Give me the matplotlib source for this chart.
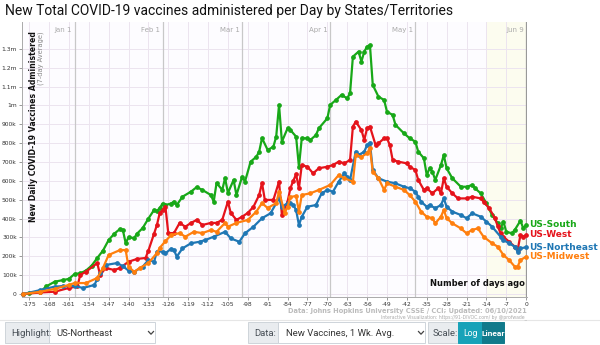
import matplotlib

matplotlib.use("Agg")
import matplotlib.pyplot as plt
from matplotlib.patches import Rectangle
from matplotlib.lines import Line2D
import numpy as np

# values in thousands of doses per day (7-day average), x = days ago
SOUTH_DAYS = [-177, -175, -171, -169, -166, -163, -161, -159, -157, -155, -153, -151, -149, -147,
              -145, -143, -142, -141, -140, -138, -137, -135, -133, -131, -130, -129, -128, -127,
              -125, -124, -123, -121, -118, -116, -114, -111, -110, -109, -107, -106, -105, -103,
              -102, -100, -99, -97, -95, -94, -93, -91, -89, -88, -87, -86, -84, -83, -81, -80,
              -79, -77, -76, -74, -73, -70, -69, -67, -65, -63, -62, -61, -59, -58, -57, -56, -55,
              -54, -52, -50, -49, -47, -46, -43, -41, -39, -38, -36, -35, -34, -33, -32, -30, -29,
              -28, -26, -23, -21, -19, -18, -16, -14, -12, -10, -9, -8, -7, -5, -4, -2, -1, 0]
SOUTH = [0, 3, 12, 40, 65, 74, 80, 106, 110, 124, 150, 191, 230, 286,
         320, 345, 340, 270, 300, 297, 320, 350, 400, 446, 440, 456, 480, 472,
         480, 490, 472, 516, 543, 567, 552, 525, 490, 589, 552, 615, 536, 605,
         525, 622, 596, 702, 728, 755, 827, 764, 781, 835, 1003, 808, 879, 870, 835, 675,
         826, 826, 817, 843, 879, 932, 1003, 1029, 1056, 1038, 1065, 1259, 1286, 1233, 1286, 1312, 1321,
         1109, 1047, 1029, 967, 950, 897, 852, 826, 808, 755, 720, 631, 667, 649, 605, 684, 737,
         667, 614, 569, 569, 578, 561, 534, 481, 419, 375, 348, 384, 330, 322, 340, 389, 348, 366]

WEST_DAYS = [-177, -171, -166, -161, -158, -157, -155, -151, -150, -148, -145, -143, -140, -137,
             -134, -133, -131, -130, -129, -128, -127, -126, -124, -122, -120, -118, -116, -114,
             -111, -109, -107, -105, -104, -102, -100, -98, -96, -94, -93, -92, -89, -87, -86, -84,
             -83, -82, -81, -80, -79, -77, -75, -73, -70, -68, -66, -64, -62, -61, -60, -58, -57,
             -56, -55, -53, -52, -50, -49, -48, -47, -45, -42, -41, -39, -38, -36, -35, -33, -31,
             -30, -29, -28, -26, -24, -21, -19, -16, -15, -13, -11, -10, -9, -8, -6, -4, -3, -2, -1, 0]
WEST = [0, 8, 12, 32, 40, 101, 118, 164, 101, 138, 127, 138, 171, 186,
        191, 230, 320, 366, 430, 445, 463, 323, 323, 377, 357, 377, 393, 366,
        377, 377, 393, 490, 430, 393, 410, 430, 463, 525, 589, 499, 499, 596, 419, 490,
        561, 600, 635, 560, 684, 675, 640, 667, 675, 684, 702, 693, 711, 888, 914, 870, 817,
        879, 888, 790, 799, 826, 826, 790, 711, 702, 693, 675, 658, 605, 552, 561, 534, 561,
        534, 614, 569, 534, 507, 507, 516, 507, 490, 455, 402, 360, 322, 304, 277, 251, 233, 313, 304, 313]

NORTHEAST_DAYS = [-177, -171, -166, -163, -159, -156, -152, -151, -150, -148, -144, -142, -140, -138,
                  -135, -133, -131, -130, -128, -127, -125, -124, -123, -121, -118, -115, -113, -110,
                  -106, -104, -101, -99, -96, -93, -90, -87, -86, -84, -83, -82, -81, -80, -79, -77,
                  -74, -72, -70, -68, -66, -64, -63, -62, -60, -59, -57, -56, -55, -54, -52, -49, -46,
                  -43, -41, -39, -38, -37, -35, -34, -32, -30, -29, -28, -26, -23, -21, -19, -16, -14,
                  -12, -9, -8, -6, -4, -3, -2, 0]
NORTHEAST = [0, 21, 39, 42, 42, 32, 48, 80, 111, 154, 164, 148, 124, 118,
             145, 180, 171, 225, 225, 216, 240, 233, 198, 242, 269, 277, 286, 304,
             330, 295, 277, 322, 357, 402, 428, 508, 463, 481, 481, 472, 446, 366, 410, 463,
             472, 534, 552, 543, 596, 640, 622, 605, 755, 737, 755, 790, 803, 658, 614, 596, 587,
             569, 561, 543, 516, 490, 463, 472, 455, 472, 507, 463, 437, 419, 402, 428, 410, 384,
             357, 304, 286, 269, 251, 224, 242, 248]

MIDWEST_DAYS = [-177, -171, -166, -161, -159, -155, -151, -149, -147, -143, -141, -140, -138, -136,
                -133, -130, -129, -127, -125, -122, -120, -117, -114, -111, -109, -106, -105, -102,
                -98, -95, -93, -91, -88, -87, -85, -84, -83, -81, -80, -79, -76, -73, -69, -66, -64,
                -61, -60, -58, -56, -55, -54, -52, -50, -49, -46, -43, -41, -39, -37, -35, -33, -32,
                -30, -29, -28, -26, -23, -21, -19, -17, -15, -12, -10, -8, -6, -4, -3, -2, 0]
MIDWEST = [0, 12, 27, 48, 58, 58, 85, 138, 207, 233, 233, 145, 118, 138,
           164, 217, 245, 280, 313, 323, 304, 330, 323, 339, 330, 377, 357, 377,
           393, 437, 482, 456, 482, 543, 430, 463, 515, 520, 437, 525, 534, 552, 578, 631, 614,
           596, 737, 728, 746, 773, 649, 614, 552, 587, 569, 552, 525, 490, 437, 410, 402, 375,
           410, 446, 402, 375, 348, 322, 340, 348, 304, 269, 251, 207, 180, 145, 145, 180, 198]

SERIES = [
    ("US-South", SOUTH_DAYS, SOUTH, "#18a818"),
    ("US-West", WEST_DAYS, WEST, "#e5131b"),
    ("US-Northeast", NORTHEAST_DAYS, NORTHEAST, "#1f77b4"),
    ("US-Midwest", MIDWEST_DAYS, MIDWEST, "#ff7f0e"),
]

X_TICKS = list(range(-175, 1, 7))
Y_TICKS = list(range(0, 1301, 100))
Y_LABELS = ["0"] + [f"{v}k" for v in range(100, 1000, 100)] + ["1m", "1.1m", "1.2m", "1.3m"]
MONTHS = [("Jan 1", -159), ("Feb 1", -128), ("Mar 1", -100), ("Apr 1", -69), ("May 1", -39), ("Jun 9", 0)]

W, H = 600, 345


def px_rect(fig, x, y, w, h, **kw):
    fig.add_artist(Rectangle((x / W, 1 - (y + h) / H), w / W, h / H,
                             transform=fig.transFigure, **kw))


def px_text(fig, x, y, s, **kw):
    fig.text(x / W, 1 - y / H, s, **kw)


def chevron(fig, x, y):
    xs = np.array([x - 2.5, x, x + 2.5]) / W
    ys = 1 - np.array([y - 1.5, y + 1.2, y - 1.5]) / H
    fig.add_artist(Line2D(xs, ys, color="#444444", lw=0.9, transform=fig.transFigure))


def main() -> None:
    plt.rcParams["font.family"] = ["DejaVu Sans"]
    fig = plt.figure(figsize=(6, 3.45), dpi=100, facecolor="white")
    ax = fig.add_axes([22 / W, 1 - 297 / H, 505 / W, 275 / H])
    ax.set_facecolor("#fdfcff")

    ax.set_xlim(-177.5, 0.3)
    ax.set_ylim(-16, 1443)

    # recent two weeks highlight
    ax.axvspan(-13.7, 0, color="#fcfcef", zorder=0)

    for d in X_TICKS:
        ax.axvline(d, color="#ece4ef", lw=0.7, zorder=1)
    for v in Y_TICKS:
        ax.axhline(v, color="#ece4ef", lw=0.7, zorder=1)
    for name, d in MONTHS:
        ax.axvline(d, color="#c8c8c8" if d else "#999999", lw=0.9, zorder=1)
        ax.text(d - 0.8, 1400, name, ha="right", va="center", fontsize=5, color="#aaaaaa")

    for name, days, vals, color in SERIES:
        ax.plot(days, vals, color=color, lw=1.6, marker="o", ms=2.4, zorder=3, clip_on=False)
        ax.text(1.2, vals[-1], name, color=color, fontsize=6.5, fontweight="bold",
                ha="left", va="center", clip_on=False)

    ax.set_xticks(X_TICKS)
    ax.set_xticklabels([str(d) for d in X_TICKS], fontsize=4.3, color="#333333")
    ax.set_yticks(Y_TICKS)
    ax.set_yticklabels(Y_LABELS, fontsize=4.3, color="#333333")
    ax.tick_params(length=2.5, width=0.6, color="#888888", pad=1.2)
    for side in ["top", "right"]:
        ax.spines[side].set_visible(False)
    for side in ["left", "bottom"]:
        ax.spines[side].set_color("#aaaaaa")
        ax.spines[side].set_linewidth(0.7)

    ax.text(-173.6, 1395, "New Daily COVID-19 Vaccines Administered", rotation=90,
            ha="center", va="top", fontsize=5.6, fontweight="bold", color="#111111")
    ax.text(-170.8, 1395, "(7-day Average)", rotation=90, ha="center", va="top",
            fontsize=4.8, color="#888888")
    ax.text(-0.6, 30, "Number of days ago", ha="right", va="bottom", fontsize=6,
            fontweight="bold", color="#111111")

    px_text(fig, 5, 11, "New Total COVID-19 vaccines administered per Day by States/Territories",
            fontsize=10.0, family="Roboto", va="center", ha="left", color="#111111")
    px_text(fig, 527, 311, "Data: Johns Hopkins University CSSE / CCI; Updated: 06/10/2021",
            fontsize=4.8, fontweight="bold", color="#bbbbbb", ha="right", va="center")
    px_text(fig, 527, 317, "Interactive Visualization: https://91-DIVOC.com/ by @profwade_",
            fontsize=3.3, color="#aaaaaa", ha="right", va="center")

    # control bar below the chart
    fig.add_artist(Line2D([0, 1], [1 - 319.5 / H] * 2, color="#e6e6e6", lw=0.8,
                          transform=fig.transFigure))
    edge = dict(edgecolor="#ced4da", linewidth=0.7)
    px_rect(fig, 5, 322, 44, 21, facecolor="#e9ecef", **edge)
    px_rect(fig, 49, 322, 106, 21, facecolor="white", **edge)
    px_rect(fig, 248, 322, 30, 21, facecolor="#e9ecef", **edge)
    px_rect(fig, 278, 322, 147, 21, facecolor="white", **edge)
    px_rect(fig, 428, 322, 30, 21, facecolor="#e9ecef", **edge)
    px_rect(fig, 458, 322, 24, 21, facecolor="#17a2b8", edgecolor="#17a2b8", linewidth=0.7)
    px_rect(fig, 482, 322, 22, 21, facecolor="#117a8b", edgecolor="#117a8b", linewidth=0.7)
    ui = dict(family="Roboto", fontsize=6.8, va="center", color="#495057")
    px_text(fig, 11, 333, "Highlight:", **ui)
    px_text(fig, 56, 333, "US-Northeast", **{**ui, "color": "#333333"})
    px_text(fig, 254, 333, "Data:", **ui)
    px_text(fig, 286, 333, "New Vaccines, 1 Wk. Avg.", **{**ui, "color": "#333333"})
    px_text(fig, 433, 333, "Scale:", **ui)
    px_text(fig, 470, 333, "Log", **{**ui, "color": "white", "ha": "center", "fontsize": 6.2})
    px_text(fig, 493, 333, "Linear", **{**ui, "color": "white", "ha": "center",
                                        "fontweight": "bold", "fontsize": 6.0})
    chevron(fig, 151, 333)
    chevron(fig, 421, 333)

    fig.savefig("out.png", dpi=100, facecolor="white")
    plt.close(fig)


if __name__ == "__main__":
    main()
